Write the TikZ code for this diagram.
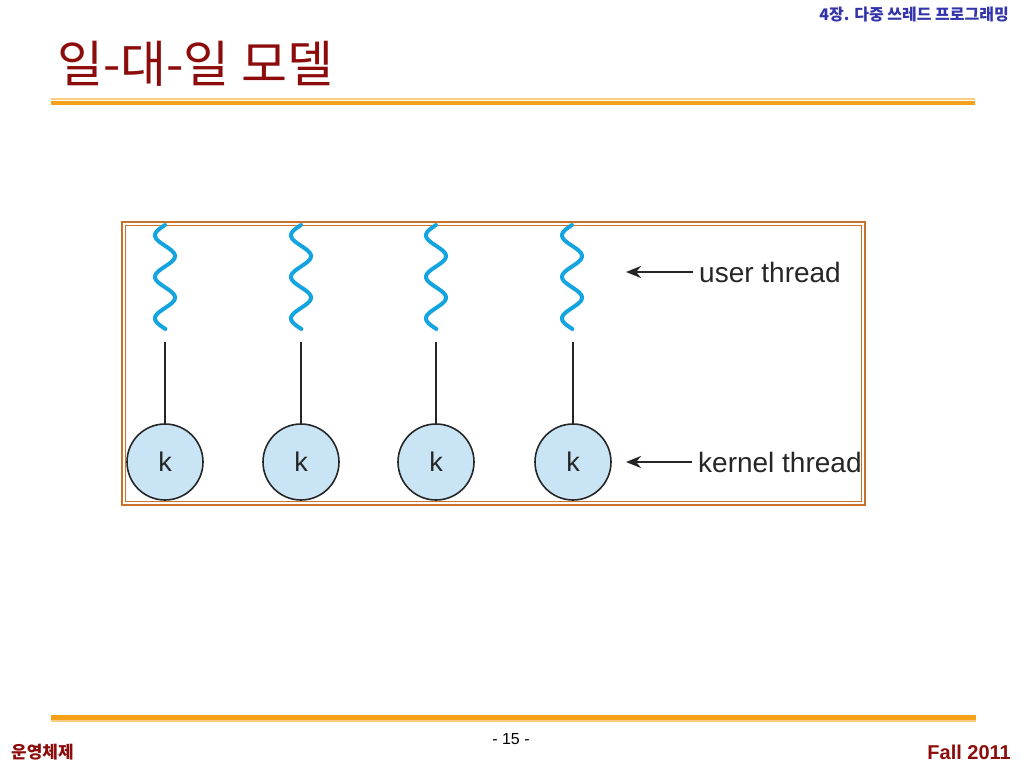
\documentclass[tikz,border=0pt]{standalone}
\usepackage{fontspec}
\setmainfont{Liberation Sans}
\newfontfamily\kr{Noto Sans CJK KR}
\usepackage{tikz}
\usetikzlibrary{shapes.geometric,arrows.meta,positioning}

\definecolor{titlered}{RGB}{140,12,12}
\definecolor{headblue}{RGB}{51,51,170}
\definecolor{barorange}{RGB}{245,160,25}
\definecolor{barlight}{RGB}{250,205,130}
\definecolor{framebrown}{RGB}{200,115,45}
\definecolor{kfill}{RGB}{200,228,245}
\definecolor{wavecol}{RGB}{20,165,225}

\tikzset{
  kthread/.style={circle,draw=black!85,line width=1.6pt,fill=kfill,minimum size=76pt,inner sep=0pt,font=\fontsize{27}{27}\selectfont,text=black!85},
  uwave/.style={wavecol,line width=4pt,line cap=round},
  link/.style={black!85,line width=2.6pt},
  ptr/.style={-{Stealth[length=15pt,width=12pt]},black!85,line width=2.6pt},
  lbl/.style={anchor=west,inner sep=6pt,font=\fontsize{28}{28}\selectfont,text=black!85},
}

\begin{document}
\begin{tikzpicture}[x=1pt,y=-1pt]
\useasboundingbox (0,0) rectangle (1024,768);
% kop
\node[anchor=east,inner sep=0pt,text=headblue,font=\kr\bfseries\fontsize{16}{16}\selectfont] (chap) at (1009,15) {4장. 다중 쓰레드 프로그래밍};
\node[anchor=west,inner sep=0pt,text=titlered,font=\kr\fontsize{50}{50}\selectfont] (title) at (57,64) {일-대-일 모델};
\draw[barlight,line width=1.2pt] (51,99) -- (975,99);
\draw[barorange,line width=4.5pt] (51,103) -- (975,103);
% ramka
\draw[framebrown,line width=1.8pt] (122,222) rectangle (865,505);
\draw[framebrown,line width=1.6pt] (125.5,225.5) rectangle (861.5,501.5);
% watki uzytkownika
\draw[uwave] plot[domain=0:104,samples=80,smooth] ({165-10*sin(8.6747*\x)},{225+\x});
\draw[uwave] plot[domain=0:104,samples=80,smooth] ({301-10*sin(8.6747*\x)},{225+\x});
\draw[uwave] plot[domain=0:104,samples=80,smooth] ({436-10*sin(8.6747*\x)},{225+\x});
\draw[uwave] plot[domain=0:104,samples=80,smooth] ({572-10*sin(8.6747*\x)},{225+\x});
\coordinate (u1) at (165,342);
\coordinate (u2) at (301,342);
\coordinate (u3) at (436,342);
\coordinate (u4) at (573,342);
% watki jadra
\node[kthread] (k1) at (165,462) {k};
\node[kthread] (k2) at (301,462) {k};
\node[kthread] (k3) at (436,462) {k};
\node[kthread] (k4) at (573,462) {k};
\draw[link] (u1) -- (k1.north);
\draw[link] (u2) -- (k2.north);
\draw[link] (u3) -- (k3.north);
\draw[link] (u4) -- (k4.north);
% opisy
\node[lbl] (user) at (693,272) {user thread};
\node[lbl] (kernel) at (692,462) {kernel thread};
\coordinate (uend) at (626,272);
\coordinate (kend) at (626,462);
\draw[ptr] (user.west) -- (uend);
\draw[ptr] (kernel.west) -- (kend);
% stopka
\draw[barorange,line width=4.5pt] (51,717.5) -- (976,717.5);
\draw[barlight,line width=1.2pt] (51,721) -- (976,721);
\node[inner sep=0pt,font=\fontsize{16}{16}\selectfont] (page) at (511,739) {- 15 -};
\node[anchor=west,inner sep=0pt,text=titlered,font=\kr\bfseries\fontsize{17}{17}\selectfont] (course) at (11,752) {운영체제};
\node[anchor=east,inner sep=0pt,text=titlered,font=\bfseries\fontsize{20}{20}\selectfont] (term) at (1011,752) {Fall 2011};
\end{tikzpicture}
\end{document}
